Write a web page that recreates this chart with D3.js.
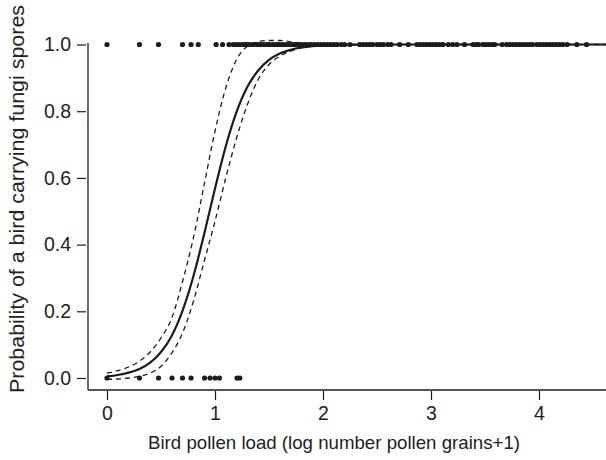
<!DOCTYPE html>
<html>
<head>
<meta charset="utf-8">
<script src="https://cdn.jsdelivr.net/npm/d3@7"></script>
<style>
  html, body { margin: 0; padding: 0; background: #fff; }
  svg { display: block; }
  text { font-family: "Liberation Sans", Arial, sans-serif; fill: #222; }
</style>
</head>
<body>
<svg id="chart" width="606" height="460"></svg>
<script>
// ---- data ----
const xTicks = [0, 1, 2, 3, 4];
const yTicks = [0, 0.2, 0.4, 0.6, 0.8, 1.0];
const xTitle = "Bird pollen load (log number pollen grains+1)";
const yTitle = "Probability of a bird carrying fungi spores";

// observed birds carrying spores (y = 1)
const presentX = [0, 0.301, 0.477, 0.699, 0.778, 0.845, 1.01, 1.07, 1.13,
  1.17, 1.2, 1.23, 1.26, 1.28, 1.3, 1.32, 1.35, 1.38, 1.4, 1.42, 1.45, 1.48, 1.5,
  1.53, 1.56, 1.58, 1.6, 1.63, 1.66, 1.69, 1.72, 1.74, 1.77, 1.8, 1.83, 1.86, 1.89,
  1.92, 1.95, 1.98, 2.01, 2.04, 2.07, 2.1, 2.13, 2.17, 2.2,
  2.25, 2.34, 2.37, 2.4, 2.43, 2.46, 2.5, 2.53, 2.56, 2.6, 2.63, 2.71, 2.79,
  2.87, 2.9, 2.93, 2.96, 2.99, 3.02, 3.05, 3.08, 3.11, 3.16, 3.2, 3.24, 3.31,
  3.39, 3.42, 3.44, 3.48, 3.51, 3.54, 3.57, 3.59, 3.66, 3.7, 3.73, 3.76, 3.79,
  3.82, 3.85, 3.88, 3.91, 3.94, 3.98, 4.01, 4.04, 4.07, 4.1, 4.13, 4.16, 4.19,
  4.22, 4.26, 4.35, 4.44];
// observed birds without spores (y = 0)
const absentX = [0, 0.301, 0.477, 0.602, 0.699, 0.778, 0.903, 0.954, 1.0, 1.041, 1.204, 1.23];

// fitted curve and confidence band
const curveX = [0, 0.1, 0.2, 0.3, 0.4, 0.5, 0.6, 0.7, 0.8, 0.9, 1.0, 1.1, 1.2, 1.3,
  1.4, 1.5, 1.6, 1.7, 1.8, 1.9, 2.0, 2.2, 2.5, 3.0, 3.5, 4.0, 4.7];
const fitY = [0.005, 0.009, 0.016, 0.027, 0.046, 0.078, 0.127, 0.202, 0.305, 0.432,
  0.568, 0.695, 0.798, 0.873, 0.922, 0.954, 0.973, 0.984, 0.991, 0.995, 0.997,
  0.999, 1, 1, 1, 1, 1];
const upperY = [0.015, 0.022, 0.033, 0.05, 0.078, 0.12, 0.18, 0.29, 0.42, 0.58,
  0.74, 0.87, 0.955, 0.995, 1.008, 1.012, 1.012, 1.008, 1.004, 1.001, 1.0,
  1, 1, 1, 1, 1, 1];
const lowerY = [-0.004, -0.003, 0.0, 0.005, 0.015, 0.035, 0.075, 0.135, 0.23, 0.35,
  0.47, 0.6, 0.72, 0.82, 0.895, 0.94, 0.965, 0.98, 0.99, 0.995, 0.998,
  1.0, 1, 1, 1, 1, 1];

// ---- drawing ----
const svg = d3.select("#chart");
const x = d3.scaleLinear().domain([0, 4]).range([107, 539]);
const y = d3.scaleLinear().domain([0, 1]).range([378, 44.5]);
const ink = "#1c1c1c";
const fontFam = "'Liberation Sans', Arial, sans-serif";

// L-shaped box
svg.append("line").attr("x1", 88).attr("x2", 88).attr("y1", 43).attr("y2", 390)
  .attr("stroke", ink).attr("stroke-width", 1.3);
svg.append("line").attr("x1", 88).attr("x2", 606).attr("y1", 390).attr("y2", 390)
  .attr("stroke", ink).attr("stroke-width", 1.3);

// x axis
const xAxis = d3.axisBottom(x).tickValues(xTicks).tickFormat(d3.format("d"))
  .tickSize(9).tickPadding(6);
const gx = svg.append("g").attr("transform", "translate(0,391)").call(xAxis);
gx.select(".domain").remove();
gx.selectAll(".tick line").attr("stroke", ink).attr("stroke-width", 1.2);
gx.selectAll(".tick text").attr("font-size", 19.5).attr("fill", "#222")
  .style("font-family", fontFam);

// y axis
const yAxis = d3.axisLeft(y).tickValues(yTicks).tickFormat(d3.format(".1f"))
  .tickSize(9).tickPadding(6);
const gy = svg.append("g").attr("transform", "translate(86,0)").call(yAxis);
gy.select(".domain").remove();
gy.selectAll(".tick line").attr("stroke", ink).attr("stroke-width", 1.2);
gy.selectAll(".tick text").attr("font-size", 19.5).attr("fill", "#222")
  .style("font-family", fontFam);

// titles
svg.append("text").attr("x", 334).attr("y", 449).attr("text-anchor", "middle")
  .attr("font-size", 19).attr("textLength", 372).attr("lengthAdjust", "spacingAndGlyphs")
  .text(xTitle);
svg.append("text").attr("transform", "translate(24,199) rotate(-90)")
  .attr("text-anchor", "middle").attr("font-size", 19.5)
  .attr("textLength", 388).attr("lengthAdjust", "spacingAndGlyphs").text(yTitle);

// curves
const line = (ys) => d3.line()
  .x((d, i) => x(curveX[i])).y((d) => y(d))
  .curve(d3.curveMonotoneX)(ys);

svg.append("path").attr("d", line(upperY)).attr("fill", "none")
  .attr("stroke", ink).attr("stroke-width", 1.3).attr("stroke-dasharray", "5,4");
svg.append("path").attr("d", line(lowerY)).attr("fill", "none")
  .attr("stroke", ink).attr("stroke-width", 1.3).attr("stroke-dasharray", "5,4");
svg.append("path").attr("d", line(fitY)).attr("fill", "none")
  .attr("stroke", ink).attr("stroke-width", 2.2);

// points
svg.append("g").selectAll("circle.p").data(presentX).join("circle")
  .attr("cx", d => x(d)).attr("cy", y(1)).attr("r", 2.6).attr("fill", ink);
svg.append("g").selectAll("circle.a").data(absentX).join("circle")
  .attr("cx", d => x(d)).attr("cy", y(0)).attr("r", 2.6).attr("fill", ink);
</script>
</body>
</html>
